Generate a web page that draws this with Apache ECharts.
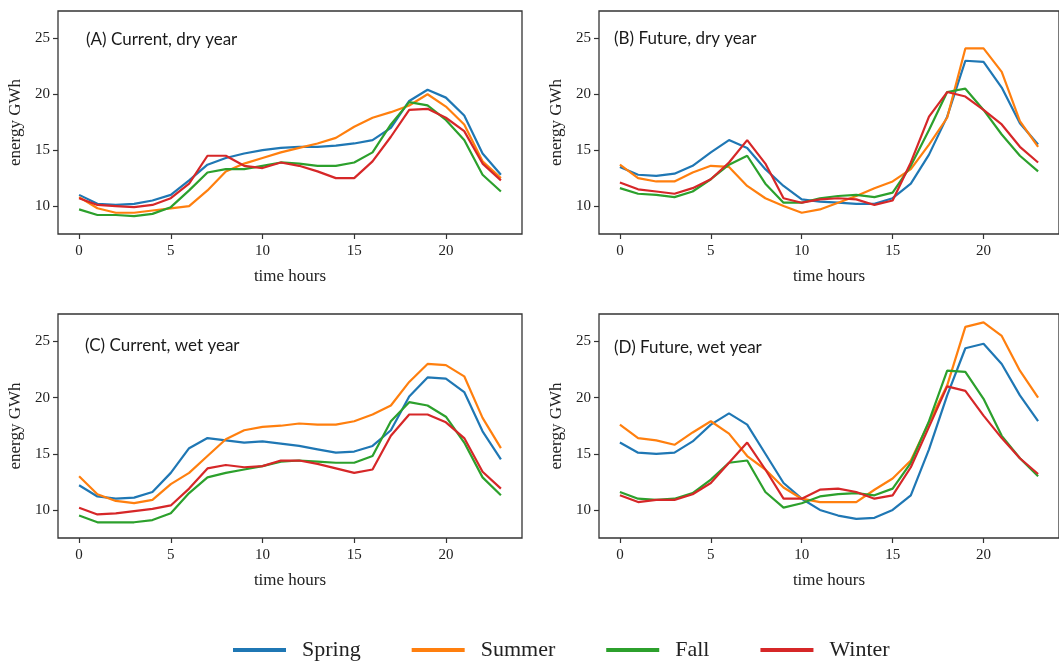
<!DOCTYPE html>
<html>
<head>
<meta charset="utf-8">
<script src="https://cdn.jsdelivr.net/npm/echarts@6/dist/echarts.min.js"></script>
<style>
  html, body { margin: 0; padding: 0; background: #fff; }
  #chart { width: 1059px; height: 662px; }
</style>
</head>
<body>
<div id="chart"></div>
<script>
// hours of the day
const hours = Array.from({ length: 24 }, (_, i) => i);
const seasons = ['Spring', 'Summer', 'Fall', 'Winter'];
const colors = ['#1f77b4', '#ff7f0e', '#2ca02c', '#d62728'];
const xTicks = [0, 5, 10, 15, 20];
const yTicks = [10, 15, 20, 25];

// (A) Current, dry year
const aSpring = [11.0, 10.2, 10.1, 10.2, 10.5, 11.0, 12.3, 13.7, 14.3, 14.7, 15.0, 15.2, 15.3, 15.3, 15.4, 15.6, 15.9, 17.0, 19.4, 20.4, 19.7, 18.1, 14.7, 12.8];
const aSummer = [10.8, 9.8, 9.4, 9.4, 9.6, 9.8, 10.0, 11.4, 13.1, 13.8, 14.3, 14.8, 15.2, 15.6, 16.1, 17.1, 17.9, 18.4, 19.0, 20.0, 18.9, 17.3, 14.0, 12.5];
const aFall   = [9.7, 9.2, 9.2, 9.1, 9.3, 9.9, 11.4, 13.0, 13.3, 13.3, 13.6, 13.9, 13.8, 13.6, 13.6, 13.9, 14.8, 17.3, 19.3, 19.0, 17.7, 15.9, 12.8, 11.3];
const aWinter = [10.7, 10.1, 10.0, 9.9, 10.1, 10.7, 12.0, 14.5, 14.5, 13.6, 13.4, 13.9, 13.6, 13.1, 12.5, 12.5, 14.0, 16.2, 18.6, 18.7, 17.9, 16.7, 13.8, 12.3];

// (B) Future, dry year
const bSpring = [13.5, 12.8, 12.7, 12.9, 13.6, 14.8, 15.9, 15.2, 13.3, 11.8, 10.6, 10.4, 10.3, 10.2, 10.2, 10.7, 12.0, 14.6, 18.0, 23.0, 22.9, 20.6, 17.4, 15.5];
const bSummer = [13.7, 12.5, 12.2, 12.2, 13.0, 13.6, 13.5, 11.8, 10.7, 10.0, 9.4, 9.7, 10.3, 10.9, 11.6, 12.2, 13.3, 15.5, 17.9, 24.1, 24.1, 22.0, 17.6, 15.3];
const bFall   = [11.6, 11.1, 11.0, 10.8, 11.3, 12.4, 13.7, 14.5, 12.0, 10.3, 10.3, 10.7, 10.9, 11.0, 10.8, 11.2, 13.6, 16.8, 20.2, 20.5, 18.6, 16.4, 14.5, 13.1];
const bWinter = [12.1, 11.5, 11.3, 11.1, 11.6, 12.4, 13.9, 15.9, 13.8, 10.7, 10.3, 10.6, 10.7, 10.6, 10.1, 10.5, 13.9, 18.0, 20.2, 19.8, 18.6, 17.3, 15.3, 13.9];

// (C) Current, wet year
const cSpring = [12.2, 11.2, 11.0, 11.1, 11.6, 13.3, 15.5, 16.4, 16.2, 16.0, 16.1, 15.9, 15.7, 15.4, 15.1, 15.2, 15.7, 17.1, 20.1, 21.8, 21.7, 20.5, 17.0, 14.5];
const cSummer = [13.0, 11.4, 10.8, 10.6, 10.9, 12.3, 13.3, 14.8, 16.3, 17.1, 17.4, 17.5, 17.7, 17.6, 17.6, 17.9, 18.5, 19.3, 21.4, 23.0, 22.9, 21.9, 18.2, 15.5];
const cFall   = [9.5, 8.9, 8.9, 8.9, 9.1, 9.7, 11.5, 12.9, 13.3, 13.6, 13.9, 14.3, 14.4, 14.3, 14.2, 14.2, 14.8, 17.9, 19.6, 19.3, 18.3, 16.0, 12.9, 11.3];
const cWinter = [10.2, 9.6, 9.7, 9.9, 10.1, 10.4, 11.9, 13.7, 14.0, 13.8, 13.9, 14.4, 14.4, 14.1, 13.7, 13.3, 13.6, 16.6, 18.5, 18.5, 17.8, 16.4, 13.4, 11.9];

// (D) Future, wet year
const dSpring = [16.0, 15.1, 15.0, 15.1, 16.1, 17.6, 18.6, 17.6, 15.0, 12.4, 11.0, 10.0, 9.5, 9.2, 9.3, 10.0, 11.3, 15.4, 20.2, 24.4, 24.8, 23.0, 20.2, 17.9];
const dSummer = [17.6, 16.4, 16.2, 15.8, 16.9, 17.9, 16.8, 14.8, 13.6, 12.0, 11.0, 10.7, 10.7, 10.7, 11.8, 12.8, 14.4, 17.8, 21.1, 26.3, 26.7, 25.5, 22.4, 20.0];
const dFall   = [11.6, 11.0, 10.9, 11.0, 11.5, 12.7, 14.2, 14.4, 11.6, 10.2, 10.6, 11.2, 11.4, 11.5, 11.3, 11.9, 14.2, 17.9, 22.4, 22.3, 19.9, 16.6, 14.6, 13.0];
const dWinter = [11.3, 10.7, 10.9, 10.9, 11.4, 12.4, 14.2, 16.0, 13.6, 11.0, 11.0, 11.8, 11.9, 11.6, 11.0, 11.3, 13.8, 17.4, 21.0, 20.6, 18.4, 16.4, 14.6, 13.2];

const panelTitles = ['(A) Current, dry year', '(B) Future, dry year', '(C) Current, wet year', '(D) Future, wet year'];
const panelData = [
  [aSpring, aSummer, aFall, aWinter],
  [bSpring, bSummer, bFall, bWinter],
  [cSpring, cSummer, cFall, cWinter],
  [dSpring, dSummer, dFall, dWinter],
];

const grids = [
  { left: 58, top: 11, width: 464, height: 223 },
  { left: 599, top: 11, width: 464, height: 223 },
  { left: 58, top: 314, width: 464, height: 224 },
  { left: 599, top: 314, width: 464, height: 224 },
];
const titlePos = [[86, 31], [614, 30], [85, 337], [614, 339]];

const serif = '"Liberation Serif", "DejaVu Serif", serif';

const chart = echarts.init(document.getElementById('chart'));

const xAxes = grids.map((g, i) => ({
  gridIndex: i,
  type: 'value',
  min: -1.15,
  max: 24.15,
  name: 'time hours',
  nameLocation: 'middle',
  nameGap: 34,
  nameTextStyle: { fontFamily: serif, fontSize: 17, color: '#222' },
  axisLine: { show: false, onZero: false },
  axisTick: { show: true, inside: false, length: 5, customValues: xTicks, lineStyle: { color: '#333', width: 1.2 } },
  axisLabel: { customValues: xTicks, margin: 10, fontFamily: serif, fontSize: 15, color: '#222' },
  splitLine: { show: false },
}));

const yAxes = grids.map((g, i) => ({
  gridIndex: i,
  type: 'value',
  min: 7.5,
  max: 27.45,
  name: 'energy GWh',
  nameLocation: 'middle',
  nameGap: 34,
  nameTextStyle: { fontFamily: serif, fontSize: 17, color: '#222' },
  axisLine: { show: false, onZero: false },
  axisTick: { show: true, inside: false, length: 5, customValues: yTicks, lineStyle: { color: '#333', width: 1.2 } },
  axisLabel: { customValues: yTicks, margin: 8, fontFamily: serif, fontSize: 15, color: '#222' },
  splitLine: { show: false },
}));

const series = [];
panelData.forEach((set, p) => {
  set.forEach((vals, s) => {
    series.push({
      name: seasons[s],
      type: 'line',
      xAxisIndex: p,
      yAxisIndex: p,
      data: hours.map((h, k) => [h, vals[k]]),
      showSymbol: false,
      symbol: 'none',
      color: colors[s],
      lineStyle: { width: 2.2, color: colors[s] },
      animation: false,
    });
  });
});

chart.setOption({
  animation: false,
  backgroundColor: '#fff',
  title: panelTitles.map((t, i) => ({
    text: t,
    left: titlePos[i][0],
    top: titlePos[i][1],
    padding: 0,
    textStyle: { fontFamily: 'Lato, "Open Sans", sans-serif', fontSize: 17, fontWeight: 'normal', color: '#1a1a1a' },
  })),
  grid: grids.map(g => Object.assign({ show: true, borderColor: '#333', borderWidth: 1.3, backgroundColor: 'transparent' }, g)),
  xAxis: xAxes,
  yAxis: yAxes,
  legend: {
    data: seasons,
    left: 228,
    top: 634,
    icon: 'rect',
    itemWidth: 53,
    itemHeight: 4,
    itemGap: 51,
    textStyle: { fontFamily: serif, fontSize: 22, color: '#222', padding: [0, 0, 0, 11] },
  },
  series: series,
});
</script>
</body>
</html>
